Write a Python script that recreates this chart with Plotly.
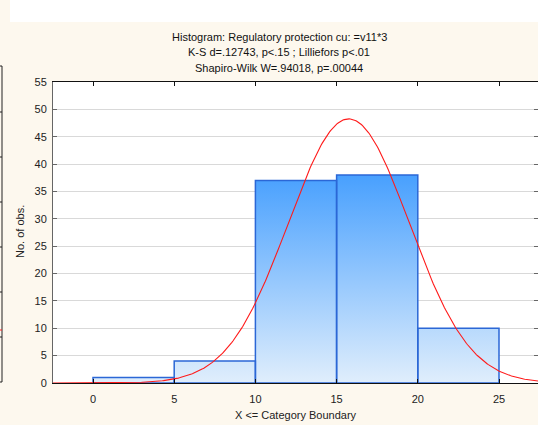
import numpy as np
import plotly.graph_objects as go

# Histogram data: category boundaries (upper limits) and observed counts
bin_edges = [0, 5, 10, 15, 20, 25]
counts = [1, 4, 37, 38, 10]

# Fitted normal distribution parameters (expected counts curve)
fit_mean = 15.75
fit_sd = 3.72
n_obs = sum(counts)
bin_width = 5

title_lines = [
    "Histogram: Regulatory protection cu: =v11*3",
    "K-S d=.12743, p<.15 ; Lilliefors p<.01",
    "Shapiro-Wilk W=.94018, p=.00044",
]
x_ticks = [0, 5, 10, 15, 20, 25]
y_ticks = list(range(0, 60, 5))

BG = "#FDF8EE"
FONT = "Liberation Sans, Arial, sans-serif"

# Build bar outlines as closed polygons so they can take a vertical gradient fill
bx, by = [], []
for i, c in enumerate(counts):
    x0, x1 = bin_edges[i], bin_edges[i + 1]
    bx += [x0, x0, x1, x1, x0, None]
    by += [0, c, c, 0, 0, None]

fig = go.Figure()
fig.add_trace(go.Scatter(
    x=bx, y=by, mode="lines", fill="toself",
    line=dict(color="#2B67D6", width=1.5),
    fillgradient=dict(type="vertical", start=0, stop=max(counts),
                      colorscale=[[0, "#E0EEFC"], [1, "#48A0FE"]]),
    hoverinfo="skip", showlegend=False,
))

# Normal curve scaled to expected counts per bin
xc = np.linspace(-2.5, 27.5, 400)
yc = n_obs * bin_width / (fit_sd * np.sqrt(2 * np.pi)) * np.exp(-0.5 * ((xc - fit_mean) / fit_sd) ** 2)
fig.add_trace(go.Scatter(x=xc, y=yc, mode="lines",
                         line=dict(color="#FF1A1A", width=1.1),
                         hoverinfo="skip", showlegend=False))

W, H = 538, 425
ml, mt, mb = 53, 82, 42
plot_w, plot_h = W - ml, H - mt - mb

def px_x(p):
    return (p - ml) / plot_w

def px_y(p):
    return (H - mb - p) / plot_h

annotations = []
for line, yp in zip(title_lines, [37, 52, 68]):
    annotations.append(dict(text=line, xref="paper", yref="paper", x=px_x(279), y=px_y(yp),
                            xanchor="center", yanchor="middle", showarrow=False,
                            font=dict(size=11, color="#111111", family=FONT)))
annotations.append(dict(text="No. of obs.", xref="paper", yref="paper", x=px_x(20), y=px_y(232),
                        xanchor="center", yanchor="middle", textangle=-90, showarrow=False,
                        font=dict(size=11, color="#222222", family=FONT)))
annotations.append(dict(text="X <= Category Boundary", xref="paper", yref="paper", x=px_x(296), y=px_y(415),
                        xanchor="center", yanchor="middle", showarrow=False,
                        font=dict(size=11, color="#222222", family=FONT)))

shapes = [
    # white strip across the top of the panel
    dict(type="rect", xref="paper", yref="paper", x0=px_x(10), x1=px_x(540), y0=px_y(22), y1=px_y(-2),
         fillcolor="white", line=dict(width=0), layer="below"),
    # edge of the neighbouring panel on the left
    dict(type="line", xref="paper", yref="paper", x0=px_x(2), x1=px_x(2), y0=px_y(66), y1=px_y(382),
         line=dict(color="#222222", width=1)),
    dict(type="line", xref="paper", yref="paper", x0=px_x(-1), x1=px_x(2), y0=px_y(66), y1=px_y(66),
         line=dict(color="#222222", width=1)),
    dict(type="line", xref="paper", yref="paper", x0=px_x(-1), x1=px_x(2), y0=px_y(382), y1=px_y(382),
         line=dict(color="#222222", width=1)),
    dict(type="line", xref="paper", yref="paper", x0=px_x(-1), x1=px_x(2), y0=px_y(330), y1=px_y(330),
         line=dict(color="#FF2020", width=1)),
]
for yp in [112, 157, 202, 247, 292, 337]:
    shapes.append(dict(type="line", xref="paper", yref="paper", x0=px_x(-1), x1=px_x(2), y0=px_y(yp), y1=px_y(yp),
                       line=dict(color="#222222", width=1)))

x_left = -40 / 16.24
x_right = x_left + plot_w / 16.24

fig.update_layout(
    width=W, height=H,
    margin=dict(l=ml, r=0, t=mt, b=mb),
    paper_bgcolor=BG, plot_bgcolor="white",
    font=dict(family=FONT, size=11, color="#222222"),
    annotations=annotations, shapes=shapes,
    xaxis=dict(range=[x_left, x_right], tickvals=x_ticks, showgrid=False, zeroline=False,
               showline=True, linecolor="#111111", linewidth=1, mirror="allticks",
               ticks="inside", ticklen=4, tickcolor="#111111",
               tickfont=dict(size=11, color="#222222"), ticklabelstandoff=6),
    yaxis=dict(range=[0, 55], tickvals=y_ticks, showgrid=True, gridcolor="#D9D9D9", gridwidth=1,
               zeroline=False, showline=True, linecolor="#666666", linewidth=1, mirror="allticks",
               ticks="inside", ticklen=4, tickcolor="#666666",
               tickfont=dict(size=11, color="#222222"), ticklabelstandoff=3),
)

fig.write_html("out.html")
